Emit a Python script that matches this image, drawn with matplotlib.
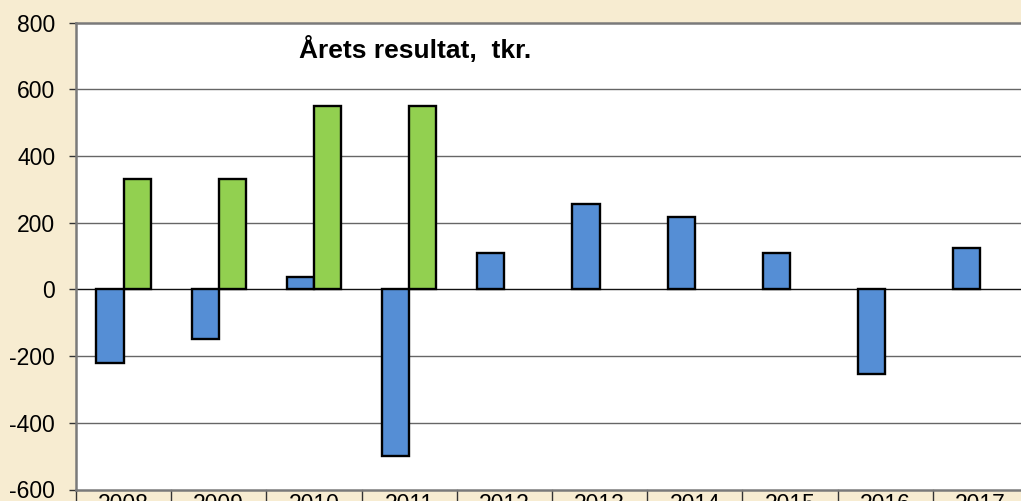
import numpy as np
import matplotlib
matplotlib.use("Agg")
import matplotlib.pyplot as plt
from matplotlib.transforms import blended_transform_factory

years = ['2008', '2009', '2010', '2011', '2012', '2013', '2014', '2015', '2016', '2017']
blue_vals = [-220, -150, 38, -500, 110, 255, 218, 110, -255, 125]
green_vals = [330, 330, 550, 550, None, None, None, None, None, None]
y_ticks = [-600, -400, -200, 0, 200, 400, 600, 800]
title = "Årets resultat,  tkr."

plt.rcParams['font.family'] = ['Liberation Sans', 'DejaVu Sans']

W, H = 1021, 501
fig = plt.figure(figsize=(W / 100, H / 100), dpi=100)
fig.patch.set_facecolor('#F7ECD1')

left, right, top, bottom = 76, 1028, 22.5, 489.5
ax = fig.add_axes([left / W, (H - bottom) / H, (right - left) / W, (bottom - top) / H])
ax.set_facecolor('white')

x = np.arange(len(years))
bw = 0.286
g = np.array([np.nan if v is None else v for v in green_vals], dtype=float)
ax.bar(x - bw / 2, blue_vals, width=bw, color='#558ED5', edgecolor='black', linewidth=1.7, zorder=3)
ax.bar(x + bw / 2, g, width=bw, color='#92D050', edgecolor='black', linewidth=1.7, zorder=3)

ax.set_xlim(-0.5, len(years) - 0.5)
ax.set_ylim(-600, 800)
ax.set_yticks(y_ticks)
ax.set_yticklabels([str(t) for t in y_ticks], fontsize=16.5)
ax.tick_params(axis='y', direction='out', length=5, width=1, color='#333333', pad=10)
for t in y_ticks[1:-1]:
    ax.axhline(t, color='#666666' if t != 0 else '#111111', linewidth=1, zorder=1)

ax.set_xticks(x)
ax.set_xticklabels(years, fontsize=16.5)
ax.tick_params(axis='x', length=0, pad=2.5)

for s in ['left', 'top', 'bottom', 'right']:
    ax.spines[s].set_color('#7a7a7a')
    ax.spines[s].set_linewidth(1.8)

trans = blended_transform_factory(ax.transData, ax.transAxes)
for b in np.arange(-0.5, len(years) + 0.5, 1.0):
    ax.plot([b, b], [0, -0.05], transform=trans, color='#333333', linewidth=1, clip_on=False)

ax.text(0.3566, 0.972, title, transform=ax.transAxes, fontsize=19, fontweight='bold',
        ha='center', va='top')

fig.savefig('out.png', dpi=100, facecolor=fig.get_facecolor())
